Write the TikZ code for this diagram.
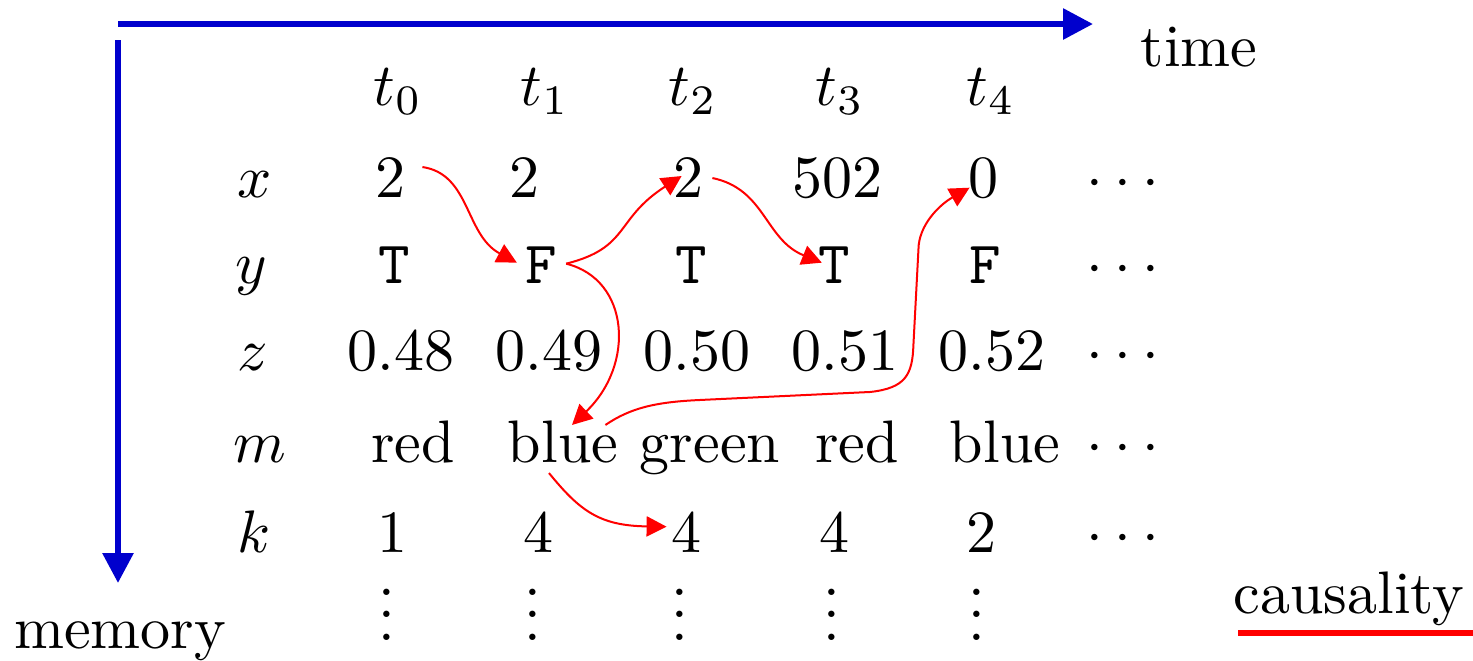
\RequirePackage{fix-cm}
\documentclass[tikz,border=0pt]{standalone}
\usepackage{graphicx}
\usetikzlibrary{arrows.meta,calc}
\definecolor{axisblue}{RGB}{0,0,205}
\newcommand{\sz}[1]{\scalebox{3}{#1}}
\newcommand{\rowdots}{\ensuremath{{\cdot}\mkern3.4mu{\cdot}\mkern3.4mu{\cdot}}}
\newcommand{\coldots}{\vbox{\baselineskip=3.67pt\lineskiplimit=0pt\hbox{.}\hbox{.}\hbox{.}}}
\tikzset{
  cell/.style={anchor=base, inner sep=0pt},
  rowlabel/.style={anchor=base west, inner sep=0pt},
  axis/.style={draw=axisblue, line width=3pt, -{Triangle[length=15pt,width=15pt]}},
  causal/.style={draw=red, line width=1pt, -{Triangle[length=10pt,width=10pt]}},
}
\begin{document}
\begin{tikzpicture}[x=0.5pt, y=-0.5pt, font=\fontsize{10}{12}\selectfont]
\useasboundingbox (0,0) rectangle (1473,660);

% axes
\coordinate (hstart) at (118,24);
\coordinate (hend) at (1093,24);
\coordinate (vstart) at (118,40);
\coordinate (vend) at (118,583);
\draw[axis] (hstart) -- (hend);
\draw[axis] (vstart) -- (vend);
\node[cell] (tm) at (1199,66) {\sz{time}};
\node[cell] (mem) at (120,648) {\sz{memory}};

% legend
\node[cell] (caus) at (1349,613) {\sz{causality}};
\coordinate (ul1) at (1238,633);
\coordinate (ul2) at (1473,633);
\draw[red, line width=3pt] (ul1) -- (ul2);

% headers
\node[cell] (t0) at (398,105) {\sz{$t_0$}};
\node[cell] (t1) at (545,105) {\sz{$t_1$}};
\node[cell] (t2) at (693,105) {\sz{$t_2$}};
\node[cell] (t3) at (840,105) {\sz{$t_3$}};
\node[cell] (t4) at (991,105) {\sz{$t_4$}};

% row labels
\node[rowlabel] (lx) at (237,197) {\sz{$x$}};
\node[rowlabel] (ly) at (235,283) {\sz{$y$}};
\node[rowlabel] (lz) at (237,370) {\sz{$z$}};
\node[rowlabel] (lm) at (233,462) {\sz{$m$}};
\node[rowlabel] (lk) at (237,552) {\sz{$k$}};

% row x
\node[cell] (x0) at (390,197) {\sz{2}};
\node[cell] (x1) at (524,197) {\sz{2}};
\node[cell] (x2) at (688,197) {\sz{2}};
\node[cell] (x3) at (837,197) {\sz{502}};
\node[cell] (x4) at (983,197) {\sz{0}};
\node[cell] (x5) at (1123,197) {\sz{\rowdots}};

% row y
\node[cell] (y0) at (394,283) {\sz{\texttt{T}}};
\node[cell] (y1) at (541,283) {\sz{\texttt{F}}};
\node[cell] (y2) at (691,283) {\sz{\texttt{T}}};
\node[cell] (y3) at (834,283) {\sz{\texttt{T}}};
\node[cell] (y4) at (985,283) {\sz{\texttt{F}}};
\node[cell] (y5) at (1123,283) {\sz{\rowdots}};

% row z
\node[cell] (z0) at (401,370) {\sz{0.48}};
\node[cell] (z1) at (549,370) {\sz{0.49}};
\node[cell] (z2) at (697,370) {\sz{0.50}};
\node[cell] (z3) at (845,370) {\sz{0.51}};
\node[cell] (z4) at (992,370) {\sz{0.52}};
\node[cell] (z5) at (1123,370) {\sz{\rowdots}};

% row m
\node[cell] (m0) at (413,462) {\sz{red}};
\node[cell] (m1) at (563,462) {\sz{blue}};
\node[cell] (m2) at (710,462) {\sz{green}};
\node[cell] (m3) at (857,462) {\sz{red}};
\node[cell] (m4) at (1005,462) {\sz{blue}};
\node[cell] (m5) at (1123,462) {\sz{\rowdots}};

% row k
\node[cell] (k0) at (392,552) {\sz{1}};
\node[cell] (k1) at (538,552) {\sz{4}};
\node[cell] (k2) at (686,552) {\sz{4}};
\node[cell] (k3) at (834,552) {\sz{4}};
\node[cell] (k4) at (981,552) {\sz{2}};
\node[cell] (k5) at (1123,552) {\sz{\rowdots}};

% vertical dots
\node[cell] (v0) at (387,640) {\sz{\coldots}};
\node[cell] (v1) at (533,640) {\sz{\coldots}};
\node[cell] (v2) at (680,640) {\sz{\coldots}};
\node[cell] (v3) at (832,640) {\sz{\coldots}};
\node[cell] (v4) at (977,640) {\sz{\coldots}};

% causality arrows
\draw[causal] ($(x0.east)+(17,-10)$) .. controls +(48,7) and +(-52,-28) .. ($(y1.west)+(-8,-2)$);
\draw[causal] ($(y1.east)+(9,-1)$) .. controls +(64,-16) and +(-67,43) .. ($(x2.west)+(9,-1)$);
\draw[causal] ($(y1.east)+(9,-1)$) .. controls +(64,16) and +(63,-60) .. ($(m1.north)+(9,5)$);
\draw[causal] ($(m1.north east)+(-13,5)$) .. controls +(25,-17) and +(-45,2) .. ++(95,-25)
   -- ++(170,-8) .. controls +(35,-4) and +(-1,30) .. ++(43,-47)
   -- ++(5,-95) .. controls +(0,-25) and +(-30,17) .. ($(x4.west)+(2,10)$);
\draw[causal] ($(x2.east)+(9,1)$) .. controls +(53,11) and +(-57,-23) .. ($(y3.west)+(4,-2)$);
\draw[causal] ($(m1.south)+(-14,10)$) .. controls +(31,38) and +(-67,-1) .. ($(k2.west)+(-4,-5)$);
\end{tikzpicture}
\end{document}
